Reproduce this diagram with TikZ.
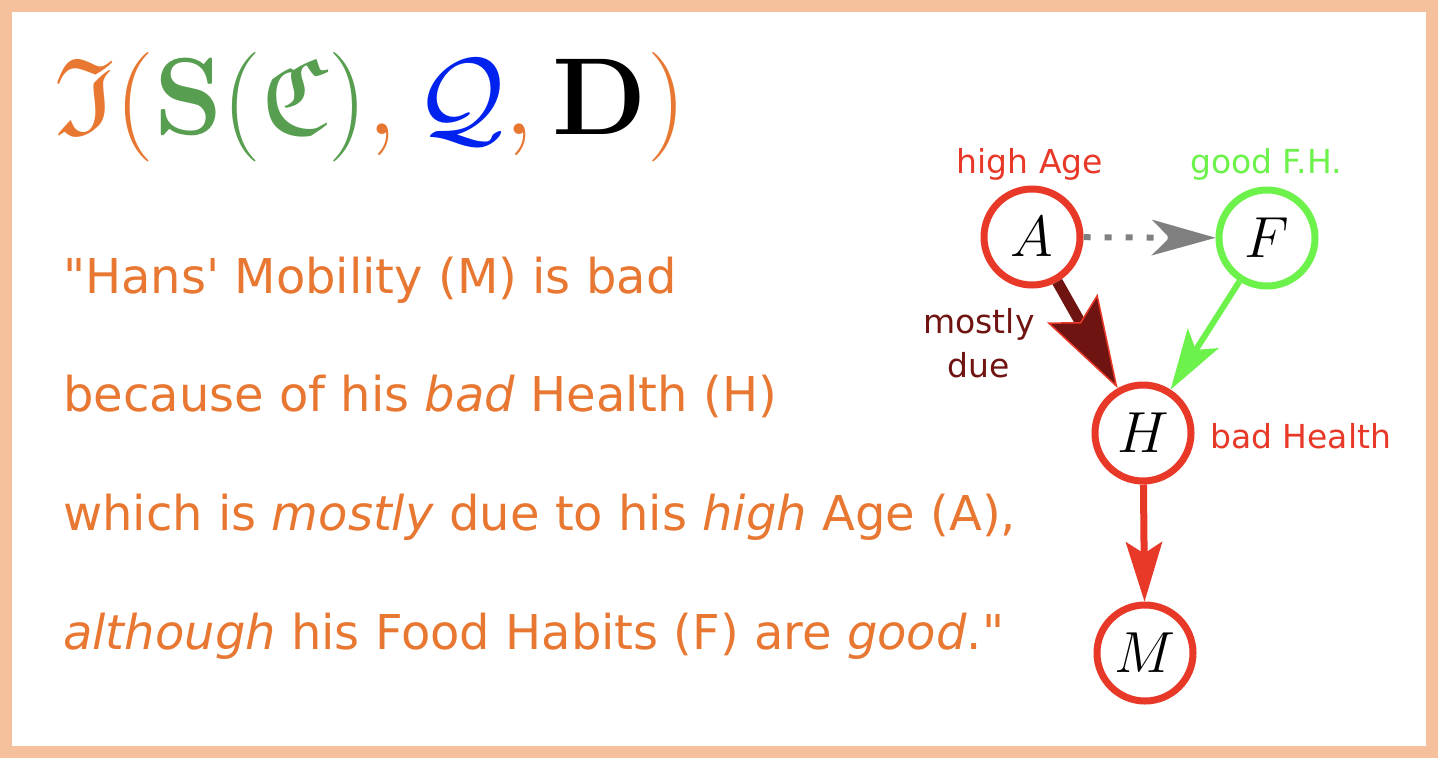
\documentclass[tikz,border=0pt]{standalone}
\usepackage{amsmath}
\usepackage{amssymb}
\usepackage[no-math]{fontspec}
\usetikzlibrary{arrows.meta, positioning}
\newfontfamily\verd{DejaVu Sans}[Ligatures=TeXOff]

\definecolor{framepeach}{RGB}{245,193,156}
\definecolor{textorange}{RGB}{232,119,50}
\definecolor{frakgreen}{RGB}{88,158,80}
\definecolor{qblue}{RGB}{0,34,238}
\definecolor{nodered}{RGB}{232,56,40}
\definecolor{nodegreen}{RGB}{108,242,74}
\definecolor{duered}{RGB}{112,20,18}
\definecolor{dotgray}{RGB}{128,128,128}

\newcommand{\varname}[1]{\scalebox{2.33}{\fontsize{24.88}{30}\selectfont$#1$}}

\tikzstyle{varnode}  = [circle, minimum size=96pt, inner sep=0pt, line width=7pt,
                        draw=nodered, fill=white]
\tikzstyle{sentence} = [anchor=base west, inner sep=0pt, text=textorange,
                        font=\verd\fontsize{48}{48}\selectfont]
\tikzstyle{tag}      = [inner sep=0pt, font=\verd\fontsize{33}{44}\selectfont]
\tikzstyle{dotarrow} = [draw=dotgray, line width=6pt, dash pattern=on 7pt off 14pt,
                        -{Stealth[length=64pt, width=36pt, inset=18pt, line width=0pt]}]
\tikzstyle{duearrow} = [draw=duered, line width=11pt,
                        -{Stealth[length=92pt, width=58pt, inset=16pt, color=nodered, fill=duered, line width=1.5pt]}]
\tikzstyle{foodarrow}= [draw=nodegreen, line width=6pt,
                        -{Stealth[length=61pt, width=37pt, inset=14pt, line width=0pt]}]
\tikzstyle{healarrow}= [draw=nodered, line width=7pt,
                        -{Stealth[length=60pt, width=37pt, inset=12pt, line width=0pt]}]

\begin{document}
\begin{tikzpicture}[x=1pt, y=-1pt]

  % Frame
  \useasboundingbox (0,0) rectangle (1440,764);
  \fill[white] (0,0) rectangle (1440,764);
  \draw[framepeach, line width=12pt] (6,6) rectangle (1432,752);

  % Formula
  \node (formula) [anchor=base west, inner sep=0pt, scale=4.4, transform shape,
                   font=\fontsize{24.88}{30}\selectfont] at (54,134)
    {$\color{textorange}\mathfrak{I}(\textcolor{frakgreen}{\mathbf{S}(\mathfrak{C})},
      \textcolor{qblue}{\mathcal{Q}}, \textcolor{black}{\mathbf{D}})$};

  % Sentence
  \node (line1) [sentence] at (63,293) {"Hans' Mobility (M) is bad};
  \node (line2) [sentence] at (63,411) {because of his \textit{bad} Health (H)};
  \node (line3) [sentence] at (63,530) {which is \textit{mostly} due to his \textit{high} Age (A),};
  \node (line4) [sentence] at (63,649) {\textit{although} his Food Habits (F) are \textit{good}."};

  % Variables
  \node (A) [varnode]                 at (1032,237) {\varname{A}};
  \node (F) [varnode, draw=nodegreen] at (1267,238) {\varname{F}};
  \node (H) [varnode]                 at (1143,433) {\varname{H}};
  \node (M) [varnode]                 at (1145,653) {\varname{M}};

  % Labels
  \node (ageTag)    [tag, text=nodered, anchor=base]        at (1030,173) {high Age};
  \node (foodTag)   [tag, text=nodegreen, anchor=base]      at (1266,173) {good F.H.};
  \node (healthTag) [tag, text=nodered, anchor=base west]   at (1210,448) {bad Health};
  \node (dueTag)    [tag, text=duered, align=center]        at (979,343)  {mostly\\due};

  % Edges
  \draw[dotarrow]  (A) -- (F);
  \draw[duearrow]  (A) -- (H);
  \draw[foodarrow] (F) -- (H);
  \draw[healarrow] (H) -- (M);

\end{tikzpicture}
\end{document}
